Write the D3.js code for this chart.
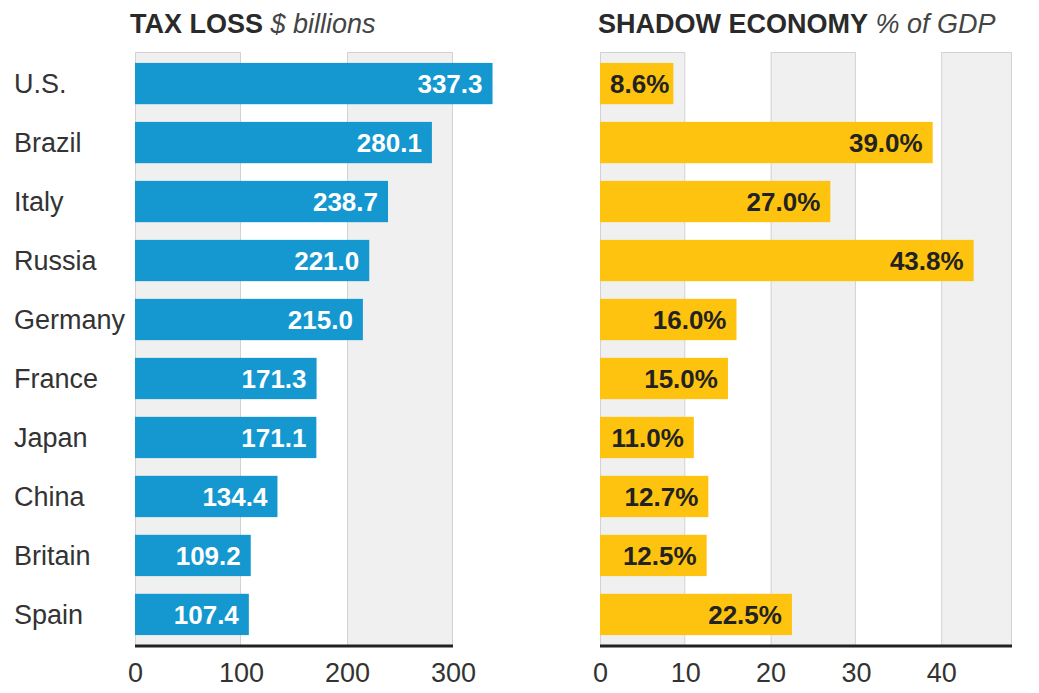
<!DOCTYPE html>
<html>
<head>
<meta charset="utf-8">
<script src="https://cdn.jsdelivr.net/npm/d3@7"></script>
<style>
  body { margin: 0; background: #fff; }
  text { font-family: "Liberation Sans", Arial, sans-serif; }
</style>
</head>
<body>
<svg id="chart" width="1039" height="693"></svg>
<script>
// data
const countries = ["U.S.", "Brazil", "Italy", "Russia", "Germany", "France", "Japan", "China", "Britain", "Spain"];
const taxLoss = [337.3, 280.1, 238.7, 221.0, 215.0, 171.3, 171.1, 134.4, 109.2, 107.4];
const shadowEconomy = [8.6, 39.0, 27.0, 43.8, 16.0, 15.0, 11.0, 12.7, 12.5, 22.5];
const taxTicks = [0, 100, 200, 300];
const shadowTicks = [0, 10, 20, 30, 40];

const svg = d3.select("#chart");

const plotTop = 52, axisY = 646;

const y = d3.scaleBand()
    .domain(countries)
    .range([plotTop, axisY])
    .paddingInner(0.3)
    .paddingOuter(0.185);

// country labels
svg.append("g")
    .selectAll("text")
    .data(countries)
    .join("text")
    .attr("x", 14)
    .attr("y", d => y(d) + y.bandwidth() / 2)
    .attr("dy", "0.36em")
    .attr("font-size", 27)
    .attr("fill", "#333")
    .text(d => d);

function panel(opts) {
    const x = d3.scaleLinear().domain([0, opts.max]).range([opts.x0, opts.x1]);
    const g = svg.append("g");

    // alternating shaded bands
    const edges = opts.ticks.concat([opts.max]);
    const bands = [];
    for (let i = 0; i < edges.length - 1; i += 2) {
        bands.push([edges[i], edges[i + 1]]);
    }
    g.append("g")
        .selectAll("rect")
        .data(bands)
        .join("rect")
        .attr("x", d => x(d[0]) + 0.5)
        .attr("y", plotTop + 0.5)
        .attr("width", d => x(d[1]) - x(d[0]) - 1)
        .attr("height", axisY - plotTop)
        .attr("fill", "#f0f0f0")
        .attr("stroke", "#d2d2d2")
        .attr("stroke-width", 1);

    // title
    const title = g.append("text")
        .attr("x", opts.titleX)
        .attr("y", 33)
        .attr("font-size", 27)
        .attr("fill", "#2a2a2a");
    title.append("tspan").attr("font-weight", "bold").text(opts.title);
    title.append("tspan").attr("font-style", "italic").attr("fill", "#444").text(" " + opts.unit);

    // bars
    g.append("g")
        .selectAll("rect")
        .data(opts.values)
        .join("rect")
        .attr("x", x(0))
        .attr("y", (d, i) => y(countries[i]))
        .attr("width", d => x(d) - x(0))
        .attr("height", y.bandwidth())
        .attr("fill", opts.color);

    // value labels
    g.append("g")
        .selectAll("text")
        .data(opts.values)
        .join("text")
        .attr("y", (d, i) => y(countries[i]) + y.bandwidth() / 2)
        .attr("dy", "0.36em")
        .attr("text-anchor", "end")
        .attr("font-size", 26)
        .attr("font-weight", "bold")
        .attr("fill", opts.labelColor)
        .text(opts.format)
        .attr("x", function(d) {
            const w = this.getComputedTextLength();
            return Math.max(x(d) - 10, x(0) + 10 + w);
        });

    // axis
    const axis = d3.axisBottom(x)
        .tickValues(opts.ticks)
        .tickSize(0)
        .tickPadding(17)
        .tickFormat(d3.format("d"));
    const ag = g.append("g")
        .attr("transform", `translate(0,${axisY})`)
        .call(axis);
    ag.select(".domain").remove();
    ag.append("line")
        .attr("x1", x(0))
        .attr("x2", x(opts.max))
        .attr("stroke", "#222")
        .attr("stroke-width", 3);
    ag.selectAll(".tick text")
        .attr("font-size", 27)
        .attr("font-family", "Liberation Sans, Arial, sans-serif")
        .attr("fill", "#333");
}

panel({
    values: taxLoss,
    ticks: taxTicks,
    max: 300,
    x0: 135,
    x1: 453,
    titleX: 130,
    title: "TAX LOSS",
    unit: "$ billions",
    color: "#1598d0",
    labelColor: "#fff",
    format: d => d3.format(".1f")(d)
});

panel({
    values: shadowEconomy,
    ticks: shadowTicks,
    max: 48.3,
    x0: 600,
    x1: 1012,
    titleX: 598,
    title: "SHADOW ECONOMY",
    unit: "% of GDP",
    color: "#fdc30f",
    labelColor: "#222",
    format: d => d3.format(".1f")(d) + "%"
});
</script>
</body>
</html>
